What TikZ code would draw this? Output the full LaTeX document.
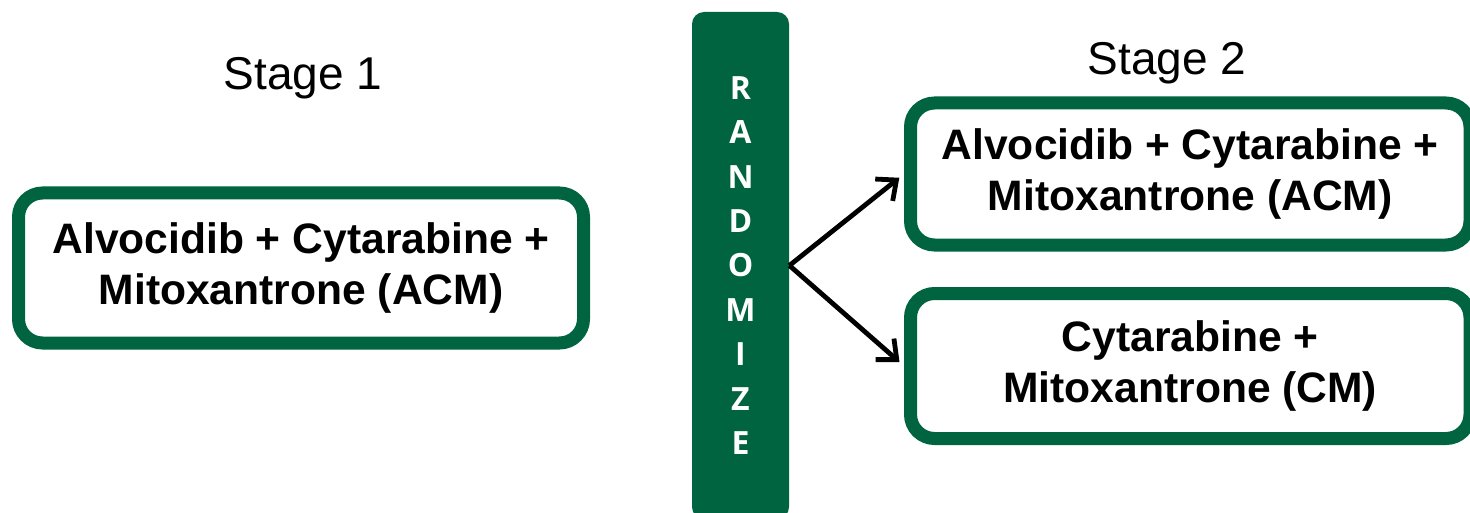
\documentclass[tikz,border=0pt]{standalone}
\usepackage{fontspec}
\setmainfont{Liberation Sans}
\newfontfamily\barfont{Open Sans}
\usetikzlibrary{arrows.meta}
\definecolor{trialgreen}{RGB}{0,100,65}
\begin{document}
\begin{tikzpicture}[x=0.5pt,y=-0.5pt,
  armbox/.style={draw=trialgreen, line width=6.5pt, rounded corners=12pt, fill=white,
    align=center, inner sep=0pt, font=\fontsize{21.3}{25.5}\selectfont\bfseries},
  stagelabel/.style={anchor=base, inner sep=0pt, font=\fontsize{23}{27}\selectfont},
  randbar/.style={fill=trialgreen, rounded corners=6pt, text=white, align=center,
    inner sep=0pt, minimum width=48.5pt, minimum height=253.5pt,
    font=\barfont\bfseries\fontsize{16}{22.2}\selectfont},
  arrow/.style={-{Straight Barb[length=8pt,width=14pt]}, line width=2.4pt, shorten >=3pt}
]
\useasboundingbox (0,0) rectangle (1470,513);
\clip (0,0) rectangle (1470,513);

% stage headings
\node[stagelabel] (s1) at (303,90) {Stage 1};
\node[stagelabel] (s2) at (1167,75) {Stage 2};

% stage 1 treatment
\node[armbox, minimum width=282.5pt, minimum height=75pt] (acm1) at (301,268)
  {Alvocidib + Cytarabine +\\ Mitoxantrone (ACM)};

% randomisation bar
\node[randbar] (rand) at (740.5,265.5) {R\\A\\N\\D\\O\\M\\I\\Z\\E};

% stage 2 arms
\node[armbox, minimum width=279.75pt, minimum height=71pt] (acm2) at (1190.25,174)
  {Alvocidib + Cytarabine +\\ Mitoxantrone (ACM)};
\node[armbox, minimum width=279.75pt, minimum height=72.5pt] (cm) at (1190.25,366)
  {Cytarabine +\\ Mitoxantrone (CM)};

% randomisation arrows
\draw[arrow] (rand.east) -- (acm2.west);
\draw[arrow] (rand.east) -- (cm.west);
\end{tikzpicture}
\end{document}
